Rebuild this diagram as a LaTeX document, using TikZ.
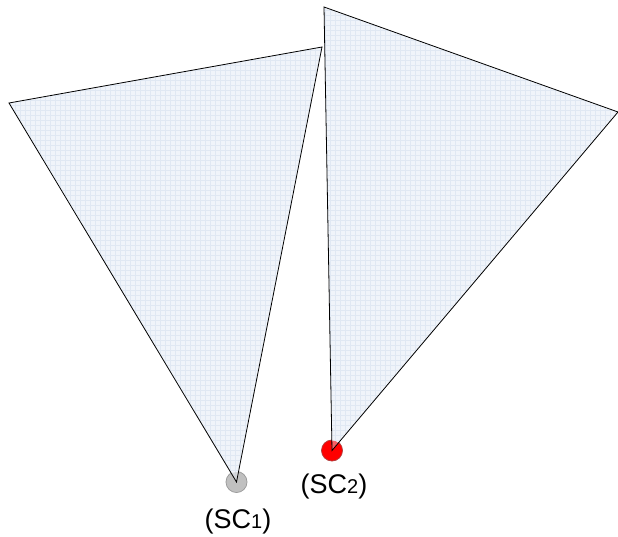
\documentclass[tikz,border=0pt]{standalone}
\usepackage{fontspec}
\setmainfont{Liberation Sans}
\definecolor{conefill}{HTML}{F0F4FA}
\definecolor{gridc}{HTML}{E0E8F3}
\definecolor{sgray}{HTML}{C0C0C0}
\definecolor{sgrayline}{HTML}{9A9A9A}
\definecolor{sred}{HTML}{FF0000}
\definecolor{sredline}{HTML}{B04040}
\tikzset{
  sensor/.style={circle, minimum size=21pt, inner sep=0pt, line width=0.8pt},
  lbl/.style={inner sep=0pt, anchor=base, font=\fontsize{27}{31}\selectfont}
}
\newcommand{\subd}[1]{{\fontsize{20}{23}\selectfont #1}}
\begin{document}
\begin{tikzpicture}[x=1pt,y=-1pt]
\useasboundingbox (0,0) rectangle (618,537);
\node[sensor, fill=sgray, draw=sgrayline] (s1) at (236.5,482) {};
\node[sensor, fill=sred, draw=sredline] (s2) at (332,450.5) {};
\coordinate (a1) at (9,103);
\coordinate (b1) at (322,47);
\coordinate (a2) at (324,7);
\coordinate (b2) at (618,112);
\begin{scope}
\clip (a1) -- (b1) -- (s1.center) -- cycle;
\fill[conefill] (0,0) rectangle (618,537);
\draw[gridc, line width=0.3pt, step=5pt] (0,0) grid (618,537);
\end{scope}
\begin{scope}
\clip (a2) -- (b2) -- (s2.center) -- cycle;
\fill[conefill] (0,0) rectangle (618,537);
\draw[gridc, line width=0.3pt, step=5pt] (0,0) grid (618,537);
\end{scope}
\fill[sgray, opacity=0.5] (s1.center) circle (10pt);
\fill[sred, opacity=0.6] (s2.center) circle (10pt);
\draw[line width=0.8pt] (a1) -- (b1) -- (s1.center) -- cycle;
\draw[line width=0.8pt] (a2) -- (b2) -- (s2.center) -- cycle;
\node[lbl] (l1) at (238,528) {(SC\subd{1})};
\node[lbl] (l2) at (334,493) {(SC\subd{2})};
\end{tikzpicture}
\end{document}
